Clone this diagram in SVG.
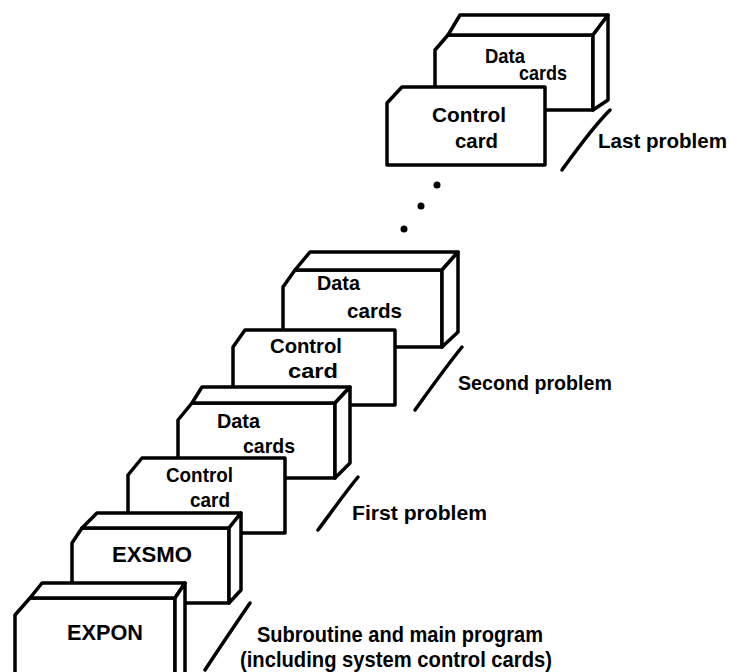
<svg xmlns="http://www.w3.org/2000/svg" width="729" height="672" viewBox="0 0 729 672">
<style>
.f{fill:#fff;stroke:#000;stroke-width:3.5;stroke-linejoin:round}
.s{fill:none;stroke:#000;stroke-width:3.5;stroke-linecap:round}
.t{font-family:"Liberation Sans",Arial,sans-serif;font-weight:bold;font-size:21px;fill:#000}
.b{font-size:22px}
</style>
<rect width="729" height="672" fill="#fff"/>
<g id="last-data">
<polygon class="f" points="435,110 435,50 448,35 593,35 593,110"/>
<polygon class="f" points="448,35 460,15 608,15 593,35"/>
<polygon class="f" points="593,35 608,15 608,100 593,110"/>
<text class="t" x="485" y="63" textLength="40" lengthAdjust="spacingAndGlyphs">Data</text>
<text class="t" x="519" y="80" textLength="48" lengthAdjust="spacingAndGlyphs">cards</text>
</g>
<g id="last-control">
<polygon class="f" points="387,165 387,103 402,87 545,87 545,165"/>
<text class="t" x="432" y="122" textLength="74" lengthAdjust="spacingAndGlyphs">Control</text>
<text class="t" x="455" y="148" textLength="43" lengthAdjust="spacingAndGlyphs">card</text>
</g>
<g id="dots">
<circle cx="437" cy="185" r="3.5"/>
<circle cx="421" cy="206" r="3.5"/>
<circle cx="404" cy="229" r="3.5"/>
</g>
<g id="second-data">
<polygon class="f" points="283,347 283,287 295,270 442,270 442,347"/>
<polygon class="f" points="295,270 310,252 458,252 442,270"/>
<polygon class="f" points="442,270 458,252 458,332 442,347"/>
<text class="t" x="317" y="290" textLength="43" lengthAdjust="spacingAndGlyphs">Data</text>
<text class="t" x="347" y="318" textLength="55" lengthAdjust="spacingAndGlyphs">cards</text>
</g>
<g id="second-control">
<polygon class="f" points="233,405 233,347 245,330 395,330 395,405"/>
<text class="t" x="270" y="353" textLength="72" lengthAdjust="spacingAndGlyphs">Control</text>
<text class="t" x="288" y="378" textLength="50" lengthAdjust="spacingAndGlyphs">card</text>
</g>
<g id="first-data">
<polygon class="f" points="178,478 178,420 192,403 335,403 335,478"/>
<polygon class="f" points="192,403 202,387 350,387 335,403"/>
<polygon class="f" points="335,403 350,387 350,463 335,478"/>
<text class="t" x="217" y="428" textLength="43" lengthAdjust="spacingAndGlyphs">Data</text>
<text class="t" x="243" y="453" textLength="52" lengthAdjust="spacingAndGlyphs">cards</text>
</g>
<g id="first-control">
<polygon class="f" points="128,533 128,475 142,458 285,458 285,533"/>
<text class="t" x="166" y="482" textLength="67" lengthAdjust="spacingAndGlyphs">Control</text>
<text class="t" x="190" y="507" textLength="40" lengthAdjust="spacingAndGlyphs">card</text>
</g>
<g id="exsmo">
<polygon class="f" points="72,603 72,543 82,528 229,528 229,603"/>
<polygon class="f" points="82,528 97,513 241,513 229,528"/>
<polygon class="f" points="229,528 241,513 241,590 229,603"/>
<text class="t b" x="112" y="562" textLength="80" lengthAdjust="spacingAndGlyphs">EXSMO</text>
</g>
<g id="expon">
<polygon class="f" points="15,700 15,615 30,598 175,598 175,700"/>
<polygon class="f" points="30,598 42,583 185,583 175,598"/>
<polygon class="f" points="175,598 185,583 185,690 175,700"/>
<text class="t b" x="67" y="640" textLength="76" lengthAdjust="spacingAndGlyphs">EXPON</text>
</g>
<g id="connectors">
<path class="s" d="M562,170 C575,152 592,128 610,110"/>
<path class="s" d="M415,410 C428,392 445,368 462,347"/>
<path class="s" d="M318,530 C330,514 344,494 358,477"/>
<path class="s" d="M205,670 C218,650 235,625 250,603"/>
</g>
<g id="labels">
<text class="t" x="598" y="148" textLength="129" lengthAdjust="spacingAndGlyphs">Last problem</text>
<text class="t" x="458" y="390" textLength="154" lengthAdjust="spacingAndGlyphs">Second problem</text>
<text class="t" x="352" y="520" textLength="135" lengthAdjust="spacingAndGlyphs">First problem</text>
<text class="t b" x="257" y="642" textLength="286" lengthAdjust="spacingAndGlyphs">Subroutine and main program</text>
<text class="t b" x="240" y="667" textLength="312" lengthAdjust="spacingAndGlyphs">(including system control cards)</text>
</g>
</svg>
